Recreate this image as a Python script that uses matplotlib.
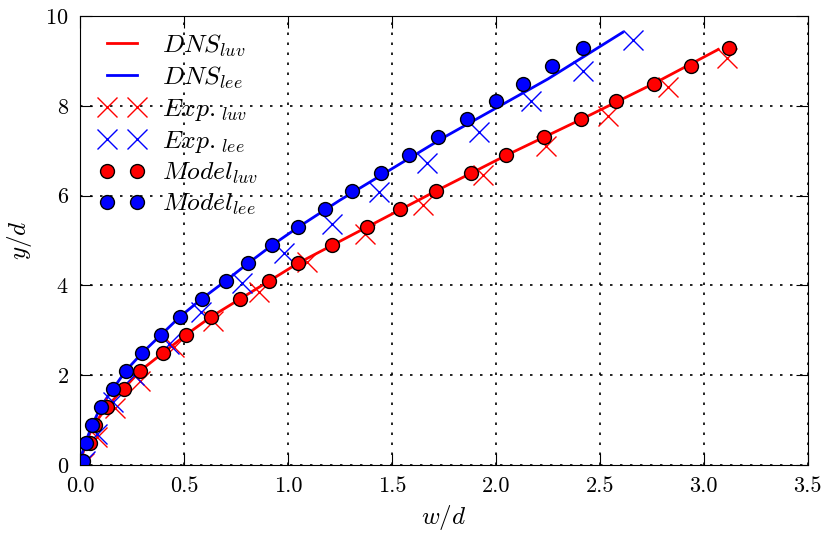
import numpy as np
import matplotlib
matplotlib.use("Agg")
import matplotlib.pyplot as plt
from matplotlib.lines import Line2D
from matplotlib.legend_handler import HandlerLine2D

plt.rcParams['font.family'] = 'serif'
plt.rcParams['font.serif'] = ['cmr10', 'DejaVu Serif']
plt.rcParams['mathtext.fontset'] = 'cm'
plt.rcParams['axes.formatter.use_mathtext'] = True

# DNS curves
dns_luv_x = [0, 0.01, 0.03, 0.06, 0.13, 0.21, 0.29, 0.40, 0.51, 0.63, 0.77, 0.91, 1.05,
             1.38, 1.71, 2.05, 2.41, 2.76, 3.07]
dns_luv_y = [0, 0.2, 0.5, 0.85, 1.3, 1.7, 2.1, 2.5, 2.9, 3.3, 3.7, 4.1, 4.5,
             5.3, 6.1, 6.9, 7.7, 8.5, 9.26]
dns_lee_x = [0, 0.01, 0.03, 0.06, 0.10, 0.16, 0.22, 0.30, 0.39, 0.48, 0.585, 0.70, 0.81,
             0.925, 1.05, 1.25, 1.5, 1.75, 2.0, 2.25, 2.61]
dns_lee_y = [0, 0.25, 0.55, 0.9, 1.3, 1.7, 2.1, 2.5, 2.9, 3.3, 3.7, 4.1, 4.5,
             4.9, 5.3, 5.9, 6.6, 7.3, 7.95, 8.6, 9.64]

# experiments
exp_luv_x = [0.02, 0.08, 0.17, 0.29, 0.45, 0.64, 0.86, 1.09, 1.37, 1.65, 1.94, 2.24, 2.54, 2.83, 3.11]
exp_luv_y = [0.05, 0.63, 1.27, 1.88, 2.62, 3.2, 3.85, 4.52, 5.15, 5.8, 6.47, 7.1, 7.77, 8.43, 9.07]
exp_lee_x = [0.025, 0.08, 0.16, 0.26, 0.43, 0.58, 0.78, 0.98, 1.21, 1.44, 1.67, 1.92, 2.17, 2.42, 2.66]
exp_lee_y = [0.1, 0.7, 1.4, 2.0, 2.7, 3.4, 4.06, 4.72, 5.36, 6.08, 6.74, 7.43, 8.12, 8.77, 9.47]

# model
model_y = [0.1, 0.5, 0.9, 1.3, 1.7, 2.1, 2.5, 2.9, 3.3, 3.7, 4.1, 4.5, 4.9, 5.3, 5.7, 6.1,
           6.5, 6.9, 7.3, 7.7, 8.1, 8.5, 8.9, 9.3]
model_luv_x = [0.01, 0.05, 0.07, 0.13, 0.21, 0.29, 0.40, 0.51, 0.63, 0.77, 0.91, 1.05, 1.21, 1.38,
               1.54, 1.71, 1.88, 2.05, 2.23, 2.41, 2.58, 2.76, 2.94, 3.12]
model_lee_x = [0.014, 0.03, 0.058, 0.10, 0.158, 0.22, 0.30, 0.39, 0.48, 0.585, 0.70, 0.81, 0.925,
               1.05, 1.18, 1.31, 1.45, 1.58, 1.72, 1.86, 2.0, 2.13, 2.27, 2.42]

fig = plt.figure(figsize=(8.27, 5.33), dpi=100)
ax = fig.add_axes([0.0967, 0.1276, 0.880, 0.842])

ax.plot(dns_luv_x, dns_luv_y, 'r-', lw=2, label=r'$DNS_{luv}$')
ax.plot(dns_lee_x, dns_lee_y, 'b-', lw=2, label=r'$DNS_{lee}$')
ax.plot(exp_luv_x, exp_luv_y, 'rx', ms=14, mew=1, label=r'$Exp._{luv}$')
ax.plot(exp_lee_x, exp_lee_y, 'bx', ms=14, mew=1, label=r'$Exp._{lee}$')
ax.plot(model_luv_x, model_y, 'o', color='r', mec='k', ms=10, mew=1, label=r'$Model_{luv}$')
ax.plot(model_lee_x, model_y, 'o', color='b', mec='k', ms=10, mew=1, label=r'$Model_{lee}$')

ax.set_xlim(0, 3.5)
ax.set_ylim(0, 10)
ax.set_xticks(np.arange(0, 3.51, 0.5))
ax.set_xticklabels(['%.1f' % v for v in np.arange(0, 3.51, 0.5)])
ax.set_yticks(range(0, 11, 2))
ax.tick_params(direction='in', top=True, right=True, length=8.5, labelsize=16, pad=8)
ax.grid(True, color='k', linestyle=(0, (1.5, 4.5)), linewidth=1.2)
ax.set_xlabel(r'$w/d$', fontsize=18, labelpad=5)
ax.set_ylabel(r'$y/d$', fontsize=18, labelpad=8)

# markers sit at the ends of the legend line, like the old legend style
ax.legend(loc='upper left', bbox_to_anchor=(0.011, 1.0045), frameon=False,
          numpoints=2, fontsize=18.5,
          handlelength=1.25, handletextpad=0.95, labelspacing=0.23,
          borderaxespad=0.3, borderpad=0.4,
          handler_map={Line2D: HandlerLine2D(marker_pad=0.05)})

fig.savefig('out.png', dpi=100)
